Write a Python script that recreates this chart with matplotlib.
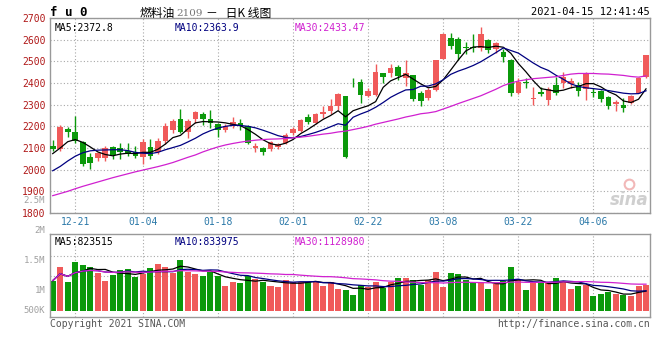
import numpy as np
import pandas as pd
import matplotlib
matplotlib.use('Agg')
import matplotlib.pyplot as plt

# daily candles, 12-16 .. 04-15
opens = [2108, 2096, 2186, 2176, 2126, 2058, 2055, 2055, 2106, 2099, 2088, 2080, 2058, 2103, 2080, 2133, 2183, 2235, 2174, 2235,
         2255, 2235, 2209, 2183, 2202, 2217, 2202, 2099, 2099, 2095, 2106, 2123, 2168, 2179, 2244, 2217, 2259, 2270, 2292, 2338,
         2402, 2403, 2341, 2345, 2444, 2448, 2474, 2424, 2438, 2353, 2330, 2368, 2512, 2608, 2603, 2565, 2567, 2562, 2598, 2558,
         2545, 2505, 2353, 2406, 2326, 2358, 2323, 2391, 2399, 2395, 2391, 2371, 2358, 2361, 2335, 2305, 2300, 2308, 2356, 2426]
closes = [2097, 2197, 2174, 2133, 2027, 2032, 2076, 2100, 2070, 2080, 2073, 2062, 2129, 2062, 2133, 2202, 2224, 2174, 2224, 2267,
          2232, 2214, 2183, 2202, 2221, 2202, 2123, 2108, 2080, 2129, 2118, 2159, 2186, 2229, 2220, 2255, 2267, 2292, 2349, 2058,
          2398, 2345, 2361, 2452, 2426, 2471, 2432, 2444, 2326, 2315, 2368, 2505, 2626, 2573, 2532, 2561, 2563, 2626, 2553, 2583,
          2520, 2353, 2406, 2399, 2330, 2350, 2371, 2356, 2429, 2409, 2361, 2447, 2353, 2326, 2295, 2311, 2285, 2341, 2424, 2527]
highs = [2135, 2206, 2197, 2247, 2133, 2077, 2083, 2108, 2111, 2121, 2123, 2108, 2141, 2141, 2148, 2214, 2232, 2280, 2232, 2273,
         2268, 2274, 2214, 2209, 2244, 2235, 2205, 2121, 2103, 2133, 2123, 2171, 2198, 2235, 2255, 2262, 2292, 2326, 2356, 2340,
         2421, 2417, 2376, 2486, 2447, 2489, 2482, 2508, 2438, 2361, 2376, 2508, 2629, 2630, 2611, 2588, 2626, 2659, 2603, 2588,
         2558, 2512, 2424, 2424, 2383, 2380, 2383, 2429, 2452, 2421, 2406, 2452, 2376, 2368, 2338, 2320, 2330, 2345, 2429, 2530]
lows = [2088, 2088, 2153, 2123, 2017, 2002, 2042, 2042, 2047, 2050, 2062, 2055, 2027, 2050, 2073, 2118, 2171, 2168, 2145, 2217,
        2205, 2194, 2153, 2176, 2194, 2183, 2118, 2080, 2068, 2088, 2095, 2118, 2159, 2174, 2209, 2209, 2239, 2259, 2277, 2055,
        2380, 2308, 2335, 2341, 2398, 2429, 2414, 2386, 2315, 2292, 2320, 2365, 2509, 2555, 2505, 2535, 2542, 2550, 2538, 2538,
        2497, 2338, 2348, 2376, 2300, 2338, 2300, 2345, 2376, 2376, 2341, 2323, 2335, 2311, 2280, 2270, 2265, 2303, 2353, 2421]

# moving averages as drawn on the chart
ma5 = [2074, 2100, 2129, 2139, 2126, 2105, 2082, 2070, 2064, 2072, 2076, 2074, 2080, 2080, 2094, 2118, 2148, 2158, 2188, 2216,
       2222, 2221, 2220, 2216, 2209, 2203, 2185, 2163, 2138, 2120, 2113, 2122, 2139, 2166, 2186, 2209, 2232, 2250, 2272, 2244,
       2272, 2284, 2295, 2314, 2380, 2410, 2425, 2440, 2418, 2396, 2378, 2384, 2415, 2460, 2506, 2548, 2566, 2568, 2564, 2570,
       2565, 2537, 2490, 2452, 2410, 2374, 2368, 2362, 2367, 2378, 2384, 2397, 2397, 2382, 2360, 2345, 2317, 2310, 2325, 2373]
ma10 = [1995, 2015, 2040, 2062, 2078, 2087, 2090, 2091, 2092, 2092, 2088, 2080, 2076, 2074, 2080, 2092, 2102, 2112, 2128, 2145,
        2165, 2180, 2192, 2200, 2205, 2204, 2200, 2193, 2182, 2170, 2157, 2149, 2147, 2153, 2162, 2172, 2184, 2198, 2212, 2205,
        2242, 2257, 2270, 2288, 2310, 2334, 2352, 2368, 2370, 2385, 2386, 2396, 2415, 2440, 2455, 2467, 2481, 2498, 2519, 2540,
        2562, 2550, 2538, 2515, 2492, 2472, 2458, 2436, 2417, 2396, 2384, 2378, 2374, 2370, 2365, 2359, 2353, 2350, 2351, 2364]
ma30 = [1880, 1890, 1900, 1912, 1923, 1933, 1943, 1953, 1963, 1972, 1981, 1990, 1998, 2006, 2014, 2023, 2033, 2045, 2057, 2068,
        2082, 2094, 2105, 2114, 2121, 2127, 2132, 2136, 2139, 2141, 2142, 2144, 2147, 2150, 2154, 2159, 2164, 2168, 2174, 2178,
        2185, 2192, 2200, 2210, 2218, 2226, 2234, 2243, 2250, 2258, 2262, 2268, 2280, 2292, 2305, 2317, 2329, 2341, 2356, 2371,
        2388, 2400, 2409, 2415, 2420, 2423, 2426, 2429, 2435, 2441, 2444, 2444, 2444, 2442, 2441, 2438, 2435, 2430, 2427, 2433]

# volume (thousands, on the chart's own volume scale)
volumes = [1167, 1400, 1151, 1484, 1428, 1400, 1301, 1162, 1256, 1345, 1362, 1234, 1278, 1384, 1445, 1400, 1301, 1512, 1317, 1278,
           1245, 1306, 1251, 1078, 1151, 1134, 1245, 1189, 1151, 1078, 1067, 1178, 1151, 1151, 1151, 1151, 1078, 1151, 1028, 1012,
           928, 1095, 1056, 1151, 1039, 1151, 1217, 1217, 1178, 1095, 1178, 1317, 1067, 1301, 1278, 1178, 1151, 1123, 1028, 1112,
           1162, 1400, 1195, 1012, 1139, 1123, 1123, 1217, 1151, 1028, 1078, 1095, 917, 945, 984, 945, 928, 917, 1084, 1095]

date_labels = ['12-21', '01-04', '01-18', '02-01', '02-22', '03-08', '03-22', '04-06']
date_index = [3, 12, 22, 32, 42, 52, 62, 72]
price_ticks = [1800, 1900, 2000, 2100, 2200, 2300, 2400, 2500, 2600, 2700]
vol_labels = ['2.5M', '2M', '1.5M', '1M', '500K']
vol_label_pos = [2500, 2000, 1500, 1000, 667]
price_legend = ['MA5:2372.8', 'MA10:2363.9', 'MA30:2433.47']
vol_legend = ['MA5:823515', 'MA10:833975', 'MA30:1128980']

RED = '#f05a5a'
GREEN = '#0b990b'
GRID = '#a8a8a8'
LINE_COLORS = ['black', '#000080', '#d020d0']
MONO = 'DejaVu Sans Mono'
CJK = ['Noto Sans CJK SC', 'DejaVu Sans']

o = np.array(opens); c = np.array(closes)
x = np.arange(len(o))
colors = np.where(c >= o, RED, GREEN)

fig = plt.figure(figsize=(6.6, 3.6), dpi=100)
ax = fig.add_axes([50/660, 1-213/360, 600/660, 195/360])
axv = fig.add_axes([50/660, 1-317/360, 600/660, 83/360])

def px(xp, yp):
    return xp/660, 1-yp/360

for a in (ax, axv):
    a.set_xlim(-0.36, 79.53)
    for s in a.spines.values():
        s.set_color('#999999')
        s.set_linewidth(1)
    a.set_xticks(date_index)
    a.grid(True, axis='x', linestyle=(0, (1, 2)), color=GRID, lw=0.8)
    a.set_axisbelow(True)
    a.tick_params(length=0)

# ---- price panel
ax.set_ylim(1800, 2700)
ax.set_yticks(price_ticks)
ax.set_yticklabels([str(t) for t in price_ticks], family=MONO, fontsize=7, color='#b01818')
ax.grid(True, axis='y', linestyle=(0, (1, 2)), color=GRID, lw=0.8)
ax.set_xticklabels(date_labels, family=MONO, fontsize=7, color='#2a78a8')
ax.tick_params(axis='x', pad=3)
ax.tick_params(axis='y', pad=3)

body_lo = np.minimum(o, c)
body_h = np.maximum(np.abs(c - o), 4)
ax.vlines(x, lows, highs, colors=colors, lw=1, zorder=2)
ax.bar(x, body_h, bottom=body_lo, width=0.75, color=colors, linewidth=0, zorder=3)
for ma, col in zip([ma5, ma10, ma30], LINE_COLORS):
    ax.plot(x, ma, color=col, lw=0.9, zorder=4)

ax.text(0.997, 0.065, 'sina', transform=ax.transAxes, ha='right', va='center', fontsize=12,
        style='italic', fontweight='bold', color='#cfcfcf', zorder=1)
ax.plot([0.965], [0.15], transform=ax.transAxes, marker='o', ms=7, mfc='none',
        mec='#f2b8b8', mew=1.5, zorder=1)

for txt, col, xa in zip(price_legend, LINE_COLORS, [0.007, 0.208, 0.407]):
    ax.text(xa, 0.975, txt, transform=ax.transAxes, family=MONO, fontsize=7, color=col, va='top')

# ---- volume panel
vol = np.array(volumes)
vol_base = 667
axv.set_ylim(562, 1945)
axv.set_yticks([])
axv.set_xticklabels([])
for yv in (1583, 1250):
    axv.axhline(yv, linestyle=(0, (1, 2)), color=GRID, lw=0.8, zorder=0)
axv.bar(x, vol - vol_base, bottom=vol_base, width=0.8, color=colors, linewidth=0, zorder=2)
vs = pd.Series(vol)
for n, col in zip([5, 10, 30], LINE_COLORS):
    axv.plot(x, vs.rolling(n, min_periods=1).mean(), color=col, lw=0.9, zorder=3)
for lab, pos in zip(vol_labels, vol_label_pos):
    axv.text(-0.008, pos, lab, transform=axv.get_yaxis_transform(), ha='right', va='center',
             family=MONO, fontsize=6.5, color='#a0a0a0', clip_on=False)
for txt, col, xa in zip(vol_legend, LINE_COLORS, [0.007, 0.208, 0.407]):
    axv.text(xa, 0.96, txt, transform=axv.transAxes, family=MONO, fontsize=7, color=col, va='top')

# ---- header / footer
fig.text(*px(50, 13), 'f u 0', family=MONO, fontsize=9, fontweight='bold', va='center')
fig.text(*px(140, 13), '燃料油', family=CJK, fontsize=8.5, va='center')
fig.text(*px(176, 13), '2109', family='DejaVu Serif', fontsize=7.5, color='#777777', va='center')
fig.text(*px(206, 13), '－   日K 线图', family=CJK, fontsize=8.5, va='center')
fig.text(*px(650, 12), '2021-04-15 12:41:45', family=MONO, fontsize=7.5, ha='right', va='center')
fig.text(*px(50, 324), 'Copyright 2021 SINA.COM', family=MONO, fontsize=7, color='#555555', va='center')
fig.text(*px(650, 324), 'http://finance.sina.com.cn', family=MONO, fontsize=7, color='#555555',
         ha='right', va='center')

fig.savefig('out.png', dpi=100)
